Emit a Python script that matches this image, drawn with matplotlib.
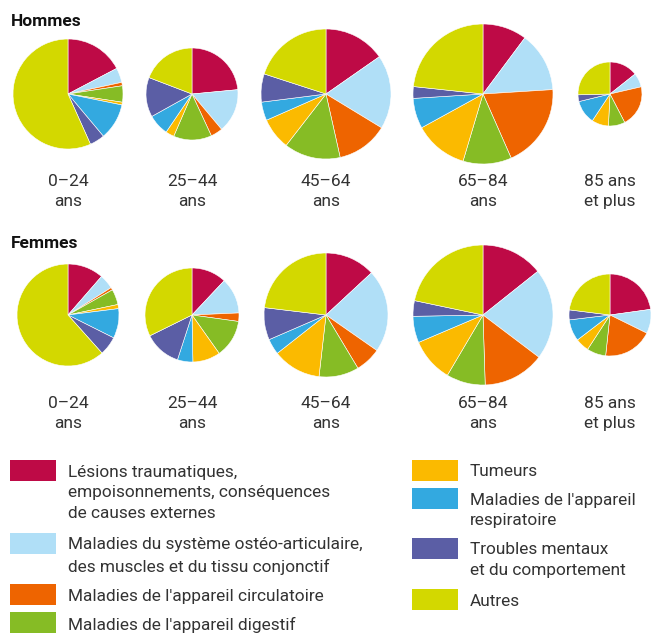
import matplotlib.pyplot as plt
from matplotlib.patches import Rectangle

plt.rcParams['font.family'] = ['Roboto', 'DejaVu Sans']

# categories, clockwise from 12 o'clock
categories = ["Lésions traumatiques,\nempoisonnements, conséquences\nde causes externes",
              "Maladies du système ostéo-articulaire,\ndes muscles et du tissu conjonctif",
              "Maladies de l'appareil circulatoire",
              "Maladies de l'appareil digestif",
              "Tumeurs",
              "Maladies de l'appareil\nrespiratoire",
              "Troubles mentaux\net du comportement",
              "Autres"]
colors = ['#BE0A46', '#B0DFF7', '#EE6400', '#86BC25', '#FBBA00', '#33A9E0', '#5B5EA5', '#D3D800']

age_groups = ["0–24\nans", "25–44\nans", "45–64\nans", "65–84\nans", "85 ans\net plus"]

# shares in %, order of categories
hommes = [
    [17.3, 4.3, 1.0, 4.8, 0.8, 10.7, 4.4, 56.7],
    [23.5, 15.4, 4.2, 13.4, 3.0, 7.4, 13.9, 19.2],
    [15.3, 18.4, 12.8, 14.0, 7.9, 4.6, 7.0, 20.0],
    [10.2, 13.8, 19.4, 11.2, 12.4, 7.0, 2.7, 23.3],
    [14.3, 7.1, 21.0, 8.4, 8.5, 11.9, 3.4, 25.4],
]
femmes = [
    [11.4, 4.6, 0.8, 4.9, 1.3, 9.4, 6.0, 61.6],
    [12.0, 12.3, 2.9, 13.0, 9.5, 5.3, 12.7, 32.3],
    [13.1, 21.6, 6.7, 10.4, 12.6, 4.1, 8.4, 23.1],
    [14.3, 21.0, 14.2, 9.0, 10.1, 6.1, 3.6, 21.7],
    [22.8, 9.5, 19.4, 7.5, 5.4, 8.5, 3.9, 23.0],
]
# pie radius (relative size of each group)
radius_h = [55, 46, 65, 70, 32]
radius_f = [51, 47, 62, 70, 41]

W, H = 666, 644
fig = plt.figure(figsize=(W / 100, H / 100), dpi=100)
ax = fig.add_axes([0, 0, 1, 1])

xs = [68, 192, 326, 483, 610]
txt = '#333333'

def row(data, radii, y_pie, y_lab, title, y_title):
    ax.text(11, H - y_title, title, fontsize=12.5, fontweight='bold', color='#111111',
            ha='left', va='center')
    for i in range(len(data)):
        ax.pie(data[i], colors=colors, radius=radii[i], center=(xs[i], H - y_pie),
               startangle=90, counterclock=False,
               wedgeprops=dict(linewidth=0.4, edgecolor='white'))
        ax.text(xs[i], H - y_lab, age_groups[i], fontsize=12.5, color=txt,
                ha='center', va='top', linespacing=1.42)

row(hommes, radius_h, 94, 174, "Hommes", 21)
row(femmes, radius_f, 315, 396, "Femmes", 243)

# legend
left_items = [0, 1, 2, 3]
left_y = [460, 533, 584, 612]
right_items = [4, 5, 6, 7]
right_y = [460, 488, 538, 589]
for items, ys, x0 in [(left_items, left_y, 10), (right_items, right_y, 412)]:
    for k, y in zip(items, ys):
        ax.add_patch(Rectangle((x0, H - y - 21), 46, 21, color=colors[k], lw=0))
        ax.text(x0 + 58, H - y - 4.5, categories[k], fontsize=12.4, color=txt,
                ha='left', va='top', linespacing=1.5)

ax.set_xlim(0, W)
ax.set_ylim(0, H)
ax.set_aspect('equal')
ax.axis('off')
fig.savefig('out.png', dpi=100)
